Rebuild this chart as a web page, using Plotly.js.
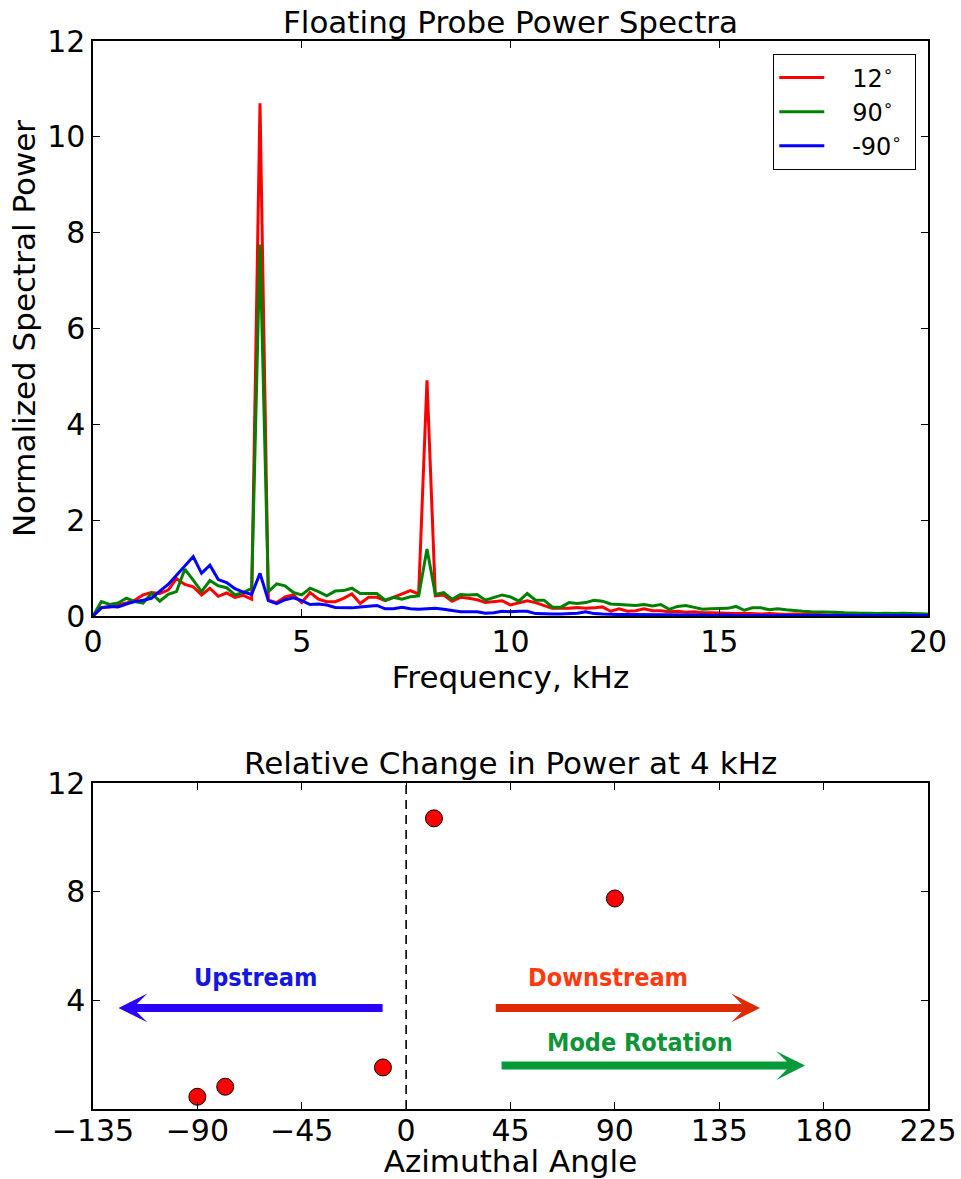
<!DOCTYPE html>
<html>
<head>
<meta charset="utf-8">
<script src="https://cdn.plot.ly/plotly-3.0.1.min.js"></script>
<style>
  html, body { margin: 0; padding: 0; background: #ffffff; }
  #chart { width: 961px; height: 1179px; }
</style>
</head>
<body>
<div id="chart"></div>
<script>
// ---------- Top panel: power spectra ----------
const freqKHz = [0,0.2,0.4,0.6,0.8,1,1.2,1.4,1.6,1.8,2,2.2,2.4,2.6,2.8,3,3.2,3.4,3.6,3.8,
  4,4.2,4.4,4.6,4.8,5,5.2,5.4,5.6,5.8,6,6.2,6.4,6.6,6.8,7,7.2,7.4,7.6,7.8,
  8,8.2,8.4,8.6,8.8,9,9.2,9.4,9.6,9.8,10,10.2,10.4,10.6,10.8,11,11.2,11.4,11.6,11.8,
  12,12.2,12.4,12.6,12.8,13,13.2,13.4,13.6,13.8,14,14.2,14.4,14.6,14.8,15,15.2,15.4,15.6,15.8,
  16,16.2,16.4,16.6,16.8,17,17.2,17.4,17.6,17.8,18,18.2,18.4,18.6,18.8,19,19.2,19.4,19.6,19.8,20];

const power12 = [0,0.18,0.19,0.23,0.27,0.33,0.44,0.49,0.47,0.54,
  0.78,0.66,0.61,0.44,0.58,0.41,0.48,0.39,0.43,0.35,
  10.7,0.33,0.28,0.40,0.44,0.28,0.49,0.35,0.30,0.30,
  0.37,0.46,0.26,0.39,0.39,0.32,0.39,0.47,0.53,0.46,
  4.92,0.42,0.44,0.31,0.39,0.37,0.34,0.28,0.30,0.32,
  0.23,0.27,0.32,0.28,0.22,0.16,0.16,0.16,0.18,0.16,
  0.17,0.19,0.10,0.15,0.10,0.11,0.15,0.11,0.11,0.09,
  0.10,0.08,0.09,0.07,0.07,0.06,0.06,0.05,0.06,0.05,
  0.04,0.05,0.04,0.03,0.04,0.03,0.03,0.03,0.02,0.03,
  0.02,0.02,0.03,0.02,0.02,0.02,0.02,0.02,0.02,0.02,
  0.02];

const power90 = [0,0.30,0.24,0.27,0.37,0.30,0.27,0.47,0.31,0.45,
  0.51,0.98,0.75,0.51,0.74,0.63,0.59,0.44,0.49,0.58,
  7.75,0.51,0.67,0.63,0.49,0.44,0.58,0.51,0.42,0.52,
  0.53,0.58,0.47,0.47,0.47,0.33,0.39,0.35,0.40,0.42,
  1.40,0.45,0.49,0.35,0.45,0.44,0.45,0.33,0.39,0.44,
  0.40,0.31,0.47,0.33,0.33,0.19,0.18,0.28,0.26,0.28,
  0.33,0.31,0.25,0.24,0.23,0.22,0.24,0.21,0.24,0.14,
  0.20,0.22,0.18,0.14,0.15,0.16,0.16,0.20,0.12,0.17,
  0.17,0.13,0.15,0.13,0.11,0.10,0.09,0.09,0.09,0.08,
  0.07,0.06,0.06,0.06,0.05,0.06,0.05,0.06,0.05,0.05,
  0.04];

const powerMinus90 = [0,0.17,0.20,0.19,0.25,0.30,0.33,0.37,0.52,0.66,
  0.85,1.04,1.24,0.89,1.06,0.76,0.70,0.57,0.50,0.45,
  0.89,0.32,0.26,0.34,0.38,0.32,0.24,0.25,0.23,0.18,
  0.17,0.17,0.19,0.21,0.22,0.15,0.15,0.18,0.15,0.14,
  0.15,0.16,0.14,0.11,0.09,0.09,0.09,0.06,0.07,0.10,
  0.09,0.10,0.10,0.05,0.04,0.04,0.04,0.05,0.06,0.09,
  0.05,0.04,0.03,0.03,0.03,0.03,0.02,0.02,0.02,0.02,
  0.02,0.02,0.02,0.02,0.01,0.02,0.02,0.01,0.01,0.01,
  0.01,0.01,0.01,0.01,0.01,0.01,0.01,0.01,0.01,0.01,
  0.01,0.01,0.01,0.01,0.01,0.01,0.01,0.01,0.01,0.01,
  0.01];

const seriesNames = ['\u00a0\u00a0\u00a012<sup>∘</sup>\u00a0', '\u00a0\u00a0\u00a090<sup>∘</sup>\u00a0', '\u00a0\u00a0\u00a0-90<sup>∘</sup>\u00a0'];
const topXTicks = [0, 5, 10, 15, 20];
const topYTicks = [0, 2, 4, 6, 8, 10, 12];

// ---------- Bottom panel: power at 4 kHz vs angle ----------
const angleDeg = [-90, -78, -10, 12, 90];
const power4k = [0.45, 0.82, 1.53, 10.7, 7.75];
const bottomXTicks = [-135, -90, -45, 0, 45, 90, 135, 180, 225];
const bottomYTicks = [4, 8, 12];

// arrows (tail -> tip) and their labels
const arrowLabels = ['Upstream', 'Downstream', 'Mode Rotation'];
const arrowTailX = [-9.5, 38, 40.5];
const arrowTipX = [-124, 152.6, 172];
const arrowY = [3.72, 3.72, 1.6];
const labelX = [-65, 87, 101];
const labelY = [4.85, 4.85, 2.45];
const arrowColors = ['#2a00ff', '#dd2a00', '#079a3a'];
const labelColors = ['#1616e2', '#ff3a10', '#109438'];

const FONT = 'DejaVu Sans, sans-serif';
const LABEL_FONT = '"DejaVu Sans Condensed", "Liberation Sans Narrow", sans-serif';
const lineColors = ['#ff0000', '#008000', '#0000ff'];
const spectra = [power12, power90, powerMinus90];

const traces = spectra.map((vals, i) => ({
  type: 'scatter', mode: 'lines',
  x: freqKHz, y: vals, name: seriesNames[i],
  line: {color: lineColors[i], width: 3},
  xaxis: 'x', yaxis: 'y', legendgroup: 'g' + i
}));

traces.push({
  type: 'scatter', mode: 'markers',
  x: angleDeg, y: power4k, showlegend: false,
  marker: {color: '#ff0000', size: 17, line: {color: '#000000', width: 1}},
  xaxis: 'x2', yaxis: 'y2', cliponaxis: false
});

const axisCommon = {
  showline: true, linecolor: '#000000', linewidth: 1.6, mirror: 'allticks',
  ticks: 'inside', ticklen: 7, tickwidth: 1.2, tickcolor: '#000000',
  showgrid: false, zeroline: false,
  tickfont: {family: FONT, size: 30, color: '#000000'}
};

const titleFont = {family: FONT, size: 31, color: '#000000'};

const annotations = [
  {text: 'Relative Change in Power at 4 kHz', xref: 'paper', yref: 'paper',
   x: 0.5, y: 0.324, xanchor: 'center', yanchor: 'middle', showarrow: false,
   font: titleFont}
];

arrowLabels.forEach((lab, i) => {
  annotations.push({
    text: '', xref: 'x2', yref: 'y2', axref: 'x2', ayref: 'y2',
    x: arrowTipX[i], y: arrowY[i], ax: arrowTailX[i], ay: arrowY[i],
    showarrow: true, arrowhead: 3, arrowwidth: 8, arrowsize: 0.6,
    arrowcolor: arrowColors[i], standoff: 0, startstandoff: 0
  });
  annotations.push({
    text: '<b>' + lab + '</b>', xref: 'x2', yref: 'y2',
    x: labelX[i], y: labelY[i], xanchor: 'center', yanchor: 'middle',
    showarrow: false,
    font: {family: LABEL_FONT, size: 25, color: labelColors[i]}
  });
});

const layout = {
  width: 961, height: 1179,
  margin: {l: 93, r: 33, t: 41, b: 70},
  paper_bgcolor: '#ffffff', plot_bgcolor: '#ffffff',
  font: {family: FONT, color: '#000000'},
  title: {text: 'Floating Probe Power Spectra', x: 0.5, xref: 'paper',
          y: 1 - 22.5 / 1179, yref: 'container', yanchor: 'middle',
          font: titleFont},
  showlegend: true,
  legend: {x: 0.9856, y: 0.9878, xanchor: 'right', yanchor: 'top',
           bgcolor: '#ffffff', bordercolor: '#000000', borderwidth: 1.3,
           font: {family: FONT, size: 24, color: '#000000'},
           tracegroupgap: 0, itemwidth: 45},
  xaxis: Object.assign({}, axisCommon, {
    domain: [0, 1], anchor: 'y', range: [0, 20],
    tickvals: topXTicks, ticklabelstandoff: -2,
    title: {text: 'Frequency, kHz', standoff: 4, font: titleFont}
  }),
  yaxis: Object.assign({}, axisCommon, {
    domain: [0.4616, 1], anchor: 'x', range: [0, 12],
    tickvals: topYTicks,
    title: {text: 'Normalized Spectral Power', standoff: 2, font: titleFont}
  }),
  xaxis2: Object.assign({}, axisCommon, {
    domain: [0, 1], anchor: 'y2', range: [-135, 225],
    tickvals: bottomXTicks, ticklabelstandoff: -6,
    title: {text: 'Azimuthal Angle', standoff: 6, font: titleFont}
  }),
  yaxis2: Object.assign({}, axisCommon, {
    domain: [0, 0.3052], anchor: 'x2', range: [0, 12],
    tickvals: bottomYTicks
  }),
  shapes: [
    {type: 'line', xref: 'x2', yref: 'y2', x0: 0, x1: 0, y0: 0, y1: 12,
     line: {color: '#000000', width: 1.6, dash: '9px,6px'}}
  ],
  annotations: annotations
};

Plotly.newPlot('chart', traces, layout, {displayModeBar: false, staticPlot: true});
</script>
</body>
</html>
